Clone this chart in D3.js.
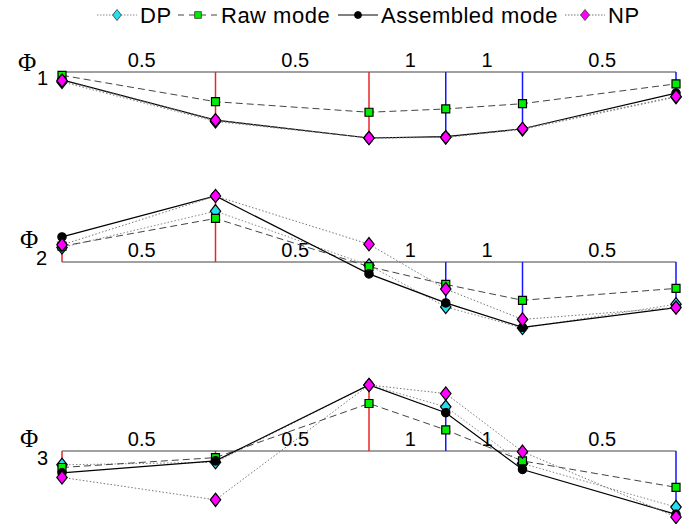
<!DOCTYPE html>
<html lang="en">
<head>
  <meta charset="UTF-8">
  <title>Mode shapes</title>
  <script src="https://d3js.org/d3.v7.min.js"></script>
  <style>
    body { margin: 0; background: #fff; }
    svg { font-family: "Liberation Sans", Arial, sans-serif; }
  </style>
</head>
<body>
<div id="chart"></div>
<script>
  // node positions along the structure and segment labels
  const nodePos = [0, 2, 4, 5, 6, 8];
  const segLabels = ["0.5", "0.5", "1", "1", "0.5"];
  const modeNames = ["1", "2", "3"];

  // mode shape values, one array per mode
  const dp = [
    [-0.15, -0.75, -1.0, -0.99, -0.87, -0.38],
    [0.22, 0.77, -0.05, -0.68, -1.0, -0.64],
    [-0.21, -0.17, 1.0, 0.67, -0.19, -0.85]
  ];
  const raw = [
    [-0.05, -0.45, -0.61, -0.56, -0.48, -0.18],
    [0.24, 0.66, -0.07, -0.34, -0.58, -0.40],
    [-0.25, -0.10, 0.72, 0.32, -0.15, -0.55]
  ];
  const assembled = [
    [-0.12, -0.73, -1.0, -0.98, -0.86, -0.32],
    [0.38, 1.0, -0.18, -0.62, -0.99, -0.69],
    [-0.33, -0.15, 1.0, 0.58, -0.28, -0.96]
  ];
  const np = [
    [-0.13, -0.73, -1.0, -0.99, -0.86, -0.37],
    [0.26, 1.0, 0.27, -0.41, -0.87, -0.69],
    [-0.40, -0.74, 1.0, 0.87, -0.01, -1.0]
  ];

  const series = [
    { name: "DP", data: dp, stroke: "#888", dash: "1.5,2", marker: "diamond", fill: "#22e0f0", size: 90 },
    { name: "Raw mode", data: raw, stroke: "#444", dash: "7,4", marker: "square", fill: "#00ee00", size: 64 },
    { name: "Assembled mode", data: assembled, stroke: "#000", dash: null, marker: "circle", fill: "#000", size: 55 },
    { name: "NP", data: np, stroke: "#777", dash: "1.5,2", marker: "diamond", fill: "#ff00ff", size: 90 }
  ];

  const W = 689, H = 524;
  const baselines = [72, 262, 451];
  const amp = 66;

  const svg = d3.select("#chart").append("svg")
    .attr("width", W).attr("height", H);

  const x = d3.scaleLinear().domain([0, 8]).range([62, 676]);

  function markerPath(type, size) {
    if (type === "diamond") {
      const w = Math.sqrt(size) * 0.55, h = Math.sqrt(size) * 0.7;
      return `M0,${-h}L${w},0L0,${h}L${-w},0Z`;
    }
    const sym = type === "square" ? d3.symbolSquare : d3.symbolCircle;
    return d3.symbol().type(sym).size(size)();
  }

  // Phi label placement per panel: [phi x, phi dy, sub x, sub dy]
  const phiPlace = [[18, -1, 37, 13], [20, -14, 36, 3], [20, -4, 37, 14]];

  baselines.forEach((base, m) => {
    const y = d3.scaleLinear().domain([-1, 1]).range([base + amp, base - amp]);
    const g = svg.append("g");

    g.append("line")
      .attr("x1", x(nodePos[0])).attr("x2", x(nodePos[nodePos.length - 1]))
      .attr("y1", y(0)).attr("y2", y(0))
      .attr("stroke", "#a0a0a0").attr("stroke-width", 2);

    // stems at nodes
    g.selectAll(".stem").data(nodePos).join("line")
      .attr("x1", d => x(d)).attr("x2", d => x(d))
      .attr("y1", y(0)).attr("y2", (d, i) => y(assembled[m][i]))
      .attr("stroke", (d, i) => i < 3 ? "#e8262a" : "#1515ff")
      .attr("stroke-width", 1.5);

    // segment labels
    g.selectAll(".seg").data(segLabels).join("text")
      .attr("x", (d, i) => (x(nodePos[i]) + x(nodePos[i + 1])) / 2 + 3)
      .attr("y", y(0) - 5)
      .attr("text-anchor", "middle")
      .style("font-size", "20px")
      .text(d => d);

    // Phi labels
    const p = phiPlace[m];
    g.append("text")
      .attr("x", p[0]).attr("y", base + p[1])
      .style("font-family", "'Liberation Serif', 'DejaVu Serif', serif")
      .style("font-size", "25px")
      .text("Φ");
    g.append("text")
      .attr("x", p[2]).attr("y", base + p[3])
      .style("font-size", "20px")
      .text(modeNames[m]);

    series.forEach(s => {
      const pts = s.data[m].map((v, i) => [x(nodePos[i]), y(v)]);
      g.append("path")
        .attr("d", d3.line()(pts))
        .attr("fill", "none")
        .attr("stroke", s.stroke)
        .attr("stroke-width", s.dash ? 1 : 1.2)
        .attr("stroke-dasharray", s.dash);
      g.selectAll(null).data(pts).join("path")
        .attr("transform", d => `translate(${d[0]},${d[1]})`)
        .attr("d", markerPath(s.marker, s.size))
        .attr("fill", s.fill)
        .attr("stroke", "#000")
        .attr("stroke-width", 1.2);
    });
  });

  // legend
  const legendX = [97, 178, 338, 565];
  const leg = svg.append("g");
  series.forEach((s, i) => {
    const lx = legendX[i];
    const item = leg.append("g").attr("transform", `translate(${lx},15)`);
    item.append("line")
      .attr("x1", 0).attr("x2", 40).attr("y1", 0).attr("y2", 0)
      .attr("stroke", s.stroke).attr("stroke-width", 1)
      .attr("stroke-dasharray", s.dash ? (s.dash === "7,4" ? "6,5" : "1.5,1.5") : null);
    item.append("path")
      .attr("transform", "translate(20,0)")
      .attr("d", markerPath(s.marker, s.size * 0.7))
      .attr("fill", s.fill)
      .attr("stroke", s.marker === "circle" ? "#000" : "#333")
      .attr("stroke-width", 0.8);
    item.append("text")
      .attr("x", 43).attr("y", 8)
      .style("font-size", "22px")
      .style("letter-spacing", "0.5px")
      .text(s.name);
  });
</script>
</body>
</html>
